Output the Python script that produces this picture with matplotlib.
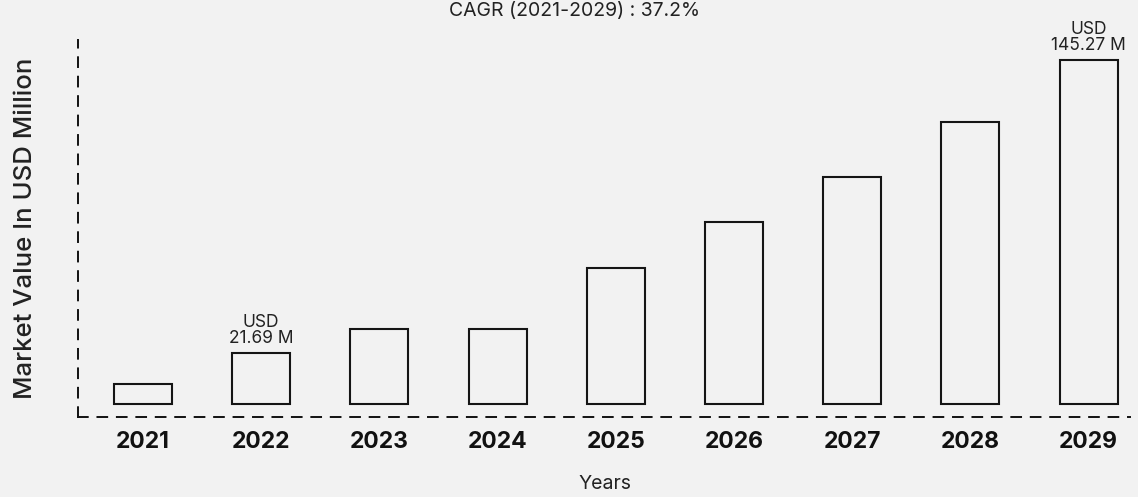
import numpy as np
import matplotlib.pyplot as plt

# market value by year (USD million)
years = ["2021", "2022", "2023", "2024", "2025", "2026", "2027", "2028", "2029"]
values = [8.4, 21.69, 31.7, 31.7, 57.4, 76.9, 95.9, 119.1, 145.27]
labelled = {1: "USD\n21.69 M", 8: "USD\n145.27 M"}
cagr_text = "CAGR (2021-2029) : 37.2%"

bg = "#f2f2f2"
plt.rcParams['font.family'] = ['Inter', 'DejaVu Sans']

fig = plt.figure(figsize=(11.38, 4.97), dpi=100, facecolor=bg)
ax = fig.add_axes([0.0685, 0.161, 0.9245, 0.7585])
ax.set_facecolor(bg)

x = np.arange(len(years))
ax.bar(x, values, width=0.49, color=bg, edgecolor="#151515", linewidth=1.5)

for i, txt in labelled.items():
    ax.annotate(txt, (x[i], values[i]), xytext=(0, 4), textcoords="offset points",
                ha="center", va="bottom", fontsize=12.5, linespacing=0.95, color="#222222")

ax.set_xlim(-0.55, 8.35)
ax.set_ylim(-5.5, 153.7)
ax.set_xticks(x)
ax.set_xticklabels(years, fontsize=16.5, fontweight="bold", color="#111111")
ax.set_yticks([])
ax.tick_params(axis="x", length=0, pad=10)

for side in ["top", "right"]:
    ax.spines[side].set_visible(False)
for side in ["left", "bottom"]:
    ax.spines[side].set_linestyle((0, (5, 5)))
    ax.spines[side].set_linewidth(1.4)
    ax.spines[side].set_color("#111111")

fig.text(0.022, 0.54, "Market Value In USD Million", rotation=90, ha="center", va="center",
         fontsize=18.5, fontweight="medium", color="#222222")
fig.text(0.532, 0.026, "Years", ha="center", va="center", fontsize=14, color="#222222")
fig.text(0.505, 0.968, cagr_text, ha="center", va="baseline", fontsize=14, color="#222222")

fig.savefig("out.png", dpi=100, facecolor=bg)
